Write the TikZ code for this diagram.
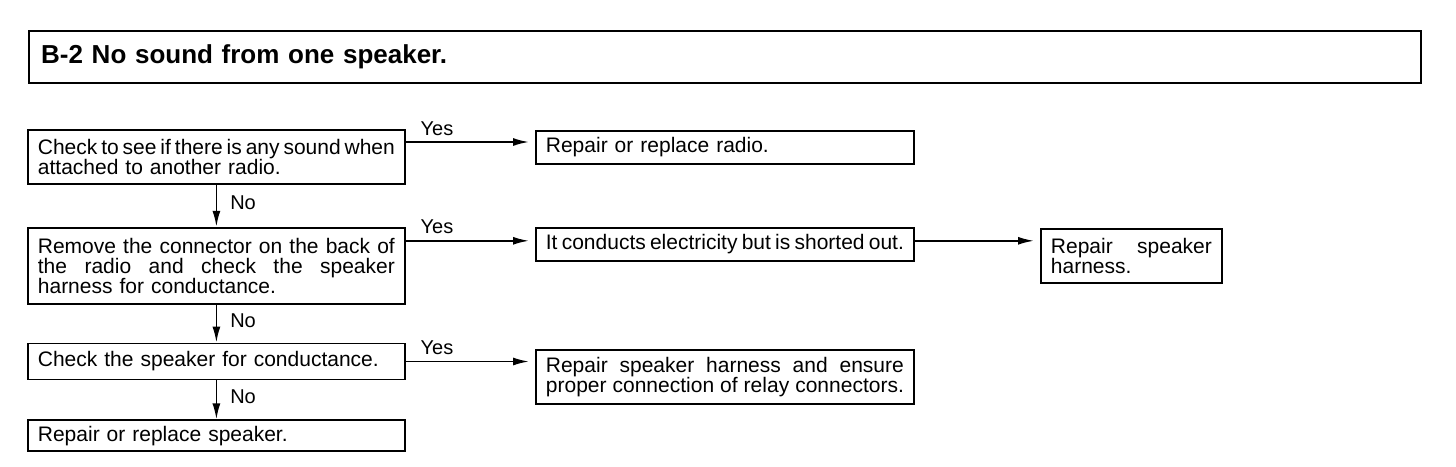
\documentclass[tikz,border=0pt]{standalone}
\usepackage{fontspec}
\setmainfont{Liberation Sans}[WordSpace={1.15,1.5,2}]
\usepackage{tikz}
\usetikzlibrary{positioning,arrows.meta}
\newcommand{\spreadline}[2]{\makebox[#1][s]{\spaceskip=0pt\xspaceskip=0pt\relax #2}}

\begin{document}
\begin{tikzpicture}[x=1pt,y=-1pt,
box/.style={draw,rectangle,line width=1.8pt,anchor=north west,inner xsep=10pt,inner ysep=2pt,align=left,font=\fontsize{21}{20}\selectfont},
lbox/.style={box,text width=357pt},
rbox/.style={box,text width=358pt},
titlebox/.style={draw,rectangle,line width=2.4pt,anchor=north west,inner xsep=12pt,text width=1368pt,minimum height=52pt,align=left,font=\bfseries\fontsize{26}{26}\selectfont},
arr/.style={line width=1.8pt,-{Latex[length=16pt,width=8pt]}},
tag/.style={font=\fontsize{20}{20}\selectfont,inner sep=0pt}]
\useasboundingbox (0,0) rectangle (1456,466);

\node (title) [titlebox] at (28,30) {B-2 No sound from one speaker.};

% left column
\node (chk) [lbox,minimum height=54pt] at (27,129)
    {\spreadline{357pt}{Check to see if there is any sound when}\\attached to another radio.};
\node (rem) [lbox,minimum height=76pt,below=42pt of chk]
    {\spreadline{357pt}{Remove the connector on the back of}\\\spreadline{357pt}{the radio and check the speaker}\\harness for conductance.};
\node (spk) [lbox,minimum height=36pt,below=38pt of rem] {Check the speaker for conductance.};
\node (rpl) [lbox,minimum height=31pt,below=39pt of spk] {Repair or replace speaker.};

% right column
\node (radio) [rbox,minimum height=33pt] at (535,130) {Repair or replace radio.};
\node (short) [rbox,minimum height=33pt] at (535,227)
    {\spreadline{358pt}{It conducts electricity but is shorted out.}};
\node (harn) [box,text width=161pt,minimum height=54pt] at (1040,228)
    {\spreadline{161pt}{Repair speaker}\\harness.};
\node (ens) [rbox,minimum height=54pt] at (535,349)
    {\spreadline{358pt}{Repair speaker harness and ensure}\\\spreadline{358pt}{proper connection of relay connectors.}};

% yes branches
\coordinate (y1) at ([yshift=-13pt]chk.north east);
\coordinate (y2) at ([yshift=-14pt]rem.north east);
\draw[arr,shorten >=6pt] (y1) -- (y1 -| radio.west)
    node[tag,pos=0,anchor=base west,xshift=14pt,yshift=7pt] {Yes};
\draw[arr,shorten >=6pt] (y2) -- (y2 -| short.west)
    node[tag,pos=0,anchor=base west,xshift=14pt,yshift=7pt] {Yes};
\draw[arr,shorten >=6pt] (spk.east) -- (spk.east -| ens.west)
    node[tag,pos=0,anchor=base west,xshift=14pt,yshift=7pt] {Yes};
\draw[arr,shorten >=6pt] (y2 -| short.east) -- (y2 -| harn.west);

% no branches
\draw[arr] (chk) -- (rem) node[tag,pos=0.42,anchor=west,xshift=13pt] {No};
\draw[arr] (rem) -- (spk) node[tag,pos=0.42,anchor=west,xshift=13pt] {No};
\draw[arr] (spk) -- (rpl) node[tag,pos=0.42,anchor=west,xshift=13pt] {No};
\end{tikzpicture}
\end{document}
